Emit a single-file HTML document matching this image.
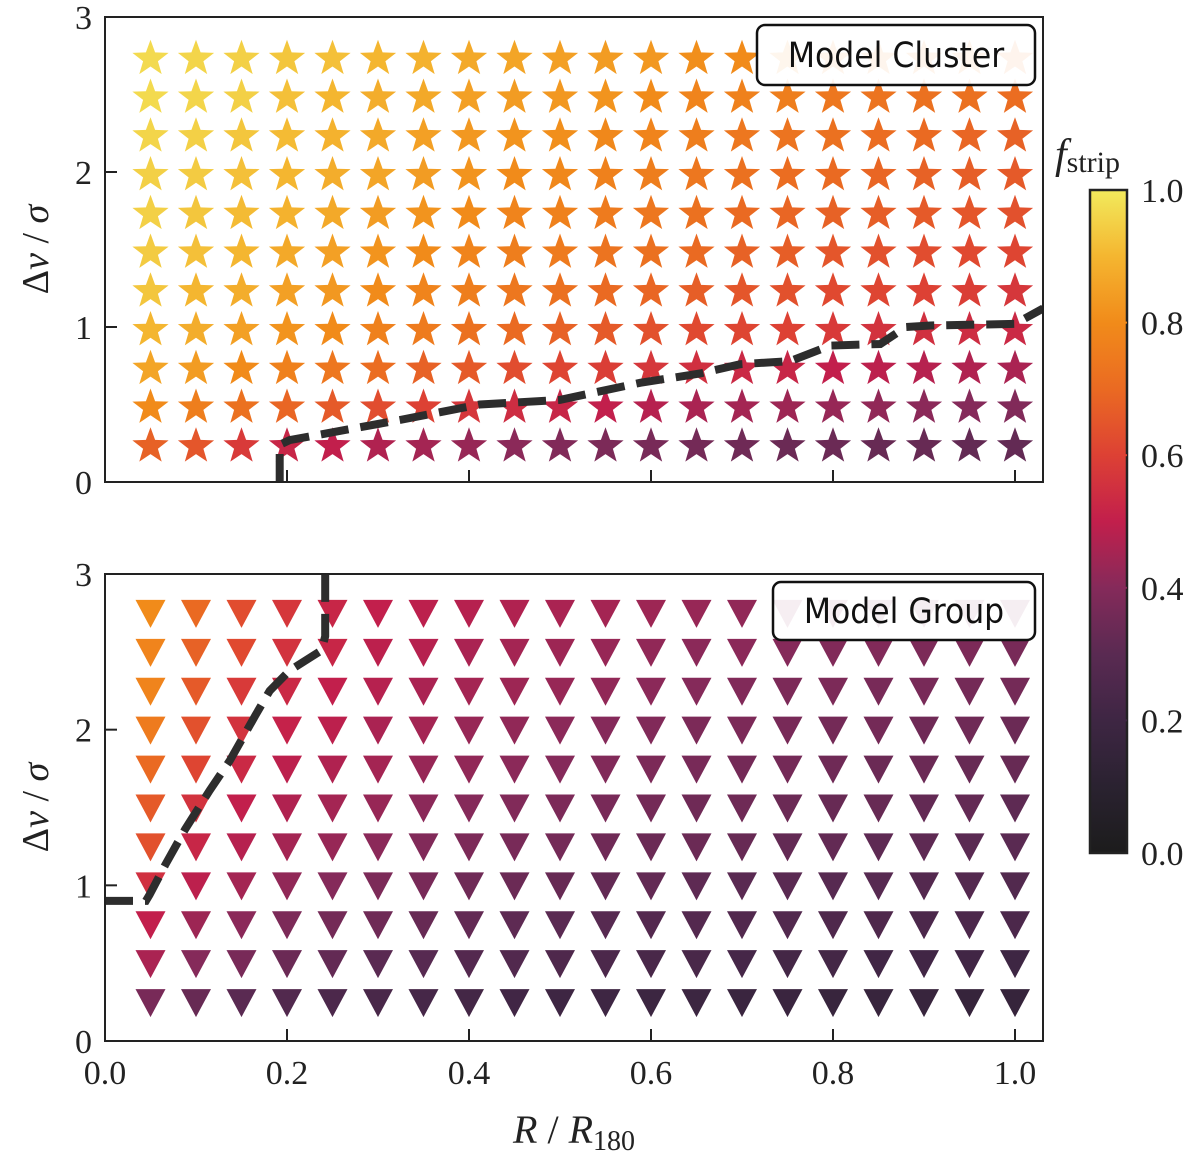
<!DOCTYPE html>
<html><head><meta charset="utf-8"><style>
body{margin:0;background:#fff;}
svg text{font-family:"Liberation Serif",serif;}
</style></head><body>
<svg id="chart" width="1200" height="1162" xmlns="http://www.w3.org/2000/svg"></svg>
<script>
const xCats=[0.05,0.1,0.15,0.2,0.25,0.3,0.35,0.4,0.45,0.5,0.55,0.6,0.65,0.7,0.75,0.8,0.85,0.9,0.95,1.0];
const yCats=[2.75,2.5,2.25,2.0,1.75,1.5,1.25,1.0,0.75,0.5,0.25];
const clusterF=[
[0.97,0.96,0.95,0.93,0.92,0.90,0.89,0.87,0.86,0.85,0.84,0.83,0.81,0.80,0.79,0.78,0.77,0.76,0.75,0.74],
[0.97,0.96,0.95,0.92,0.90,0.88,0.87,0.85,0.84,0.83,0.82,0.80,0.78,0.77,0.76,0.74,0.73,0.72,0.72,0.71],
[0.96,0.95,0.93,0.91,0.89,0.87,0.85,0.83,0.82,0.81,0.79,0.78,0.76,0.74,0.73,0.72,0.71,0.70,0.69,0.68],
[0.95,0.94,0.92,0.90,0.88,0.86,0.84,0.82,0.80,0.79,0.77,0.76,0.74,0.72,0.71,0.70,0.69,0.68,0.67,0.66],
[0.95,0.93,0.91,0.89,0.87,0.84,0.82,0.80,0.78,0.77,0.75,0.74,0.72,0.70,0.69,0.68,0.67,0.66,0.65,0.64],
[0.94,0.92,0.90,0.87,0.85,0.82,0.80,0.78,0.76,0.75,0.73,0.72,0.70,0.68,0.67,0.65,0.64,0.63,0.62,0.61],
[0.93,0.90,0.88,0.85,0.83,0.80,0.78,0.76,0.74,0.72,0.70,0.69,0.67,0.65,0.64,0.62,0.61,0.60,0.59,0.57],
[0.90,0.88,0.85,0.82,0.80,0.77,0.75,0.72,0.70,0.68,0.66,0.64,0.62,0.61,0.60,0.58,0.56,0.55,0.54,0.53],
[0.86,0.84,0.80,0.77,0.74,0.71,0.68,0.66,0.63,0.61,0.59,0.57,0.55,0.53,0.52,0.50,0.49,0.48,0.47,0.46],
[0.80,0.76,0.72,0.69,0.66,0.63,0.60,0.57,0.54,0.52,0.50,0.48,0.46,0.45,0.44,0.43,0.42,0.41,0.40,0.39],
[0.68,0.65,0.58,0.52,0.50,0.47,0.45,0.43,0.41,0.39,0.38,0.37,0.36,0.35,0.34,0.34,0.33,0.33,0.32,0.32]];
const groupF=[
[0.80,0.70,0.63,0.57,0.52,0.50,0.49,0.48,0.47,0.46,0.45,0.44,0.43,0.42,0.41,0.41,0.40,0.40,0.39,0.39],
[0.78,0.68,0.62,0.56,0.52,0.49,0.48,0.46,0.45,0.44,0.43,0.42,0.41,0.41,0.40,0.39,0.39,0.38,0.38,0.37],
[0.78,0.66,0.58,0.53,0.50,0.48,0.46,0.45,0.44,0.43,0.42,0.41,0.40,0.39,0.38,0.38,0.37,0.37,0.36,0.36],
[0.75,0.64,0.56,0.51,0.49,0.46,0.45,0.43,0.42,0.41,0.40,0.39,0.38,0.38,0.37,0.36,0.36,0.35,0.35,0.34],
[0.70,0.61,0.53,0.49,0.47,0.45,0.43,0.42,0.41,0.40,0.39,0.38,0.37,0.36,0.36,0.35,0.34,0.34,0.33,0.33],
[0.66,0.56,0.50,0.47,0.45,0.43,0.41,0.40,0.39,0.38,0.37,0.36,0.35,0.35,0.34,0.33,0.33,0.32,0.32,0.31],
[0.64,0.52,0.48,0.45,0.43,0.41,0.39,0.38,0.37,0.36,0.35,0.34,0.34,0.33,0.32,0.32,0.31,0.31,0.30,0.30],
[0.55,0.49,0.45,0.42,0.40,0.38,0.37,0.35,0.34,0.33,0.32,0.32,0.31,0.30,0.30,0.29,0.29,0.28,0.28,0.27],
[0.50,0.44,0.41,0.38,0.36,0.35,0.33,0.32,0.31,0.30,0.29,0.28,0.28,0.27,0.27,0.26,0.26,0.25,0.25,0.25],
[0.46,0.40,0.37,0.34,0.32,0.30,0.29,0.28,0.27,0.26,0.25,0.24,0.24,0.23,0.22,0.22,0.21,0.21,0.21,0.20],
[0.37,0.33,0.30,0.27,0.25,0.24,0.23,0.22,0.21,0.20,0.20,0.19,0.19,0.18,0.18,0.17,0.17,0.17,0.16,0.16]];
const clusterLineX=[0.192,0.192,0.203,0.324,0.412,0.5,0.588,0.654,0.698,0.753,0.797,0.852,0.88,0.907,1.0,1.031];
const clusterLineY=[0,0.24,0.27,0.40,0.50,0.53,0.64,0.70,0.76,0.78,0.88,0.89,1.0,1.01,1.02,1.12];
const groupLineX=[0,0.045,0.049,0.066,0.088,0.115,0.137,0.165,0.181,0.203,0.238,0.242,0.242];
const groupLineY=[0.9,0.9,0.94,1.13,1.36,1.61,1.8,2.09,2.25,2.38,2.51,2.6,3.0];
const xTicks=[0.0,0.2,0.4,0.6,0.8,1.0];
const xTickLabels=["0.0","0.2","0.4","0.6","0.8","1.0"];
const yTicks=[0,1,2,3];
const cbTicks=[0,0.2,0.4,0.6,0.8,1.0];
const cbTickLabels=["0.0","0.2","0.4","0.6","0.8","1.0"];

const NS="http://www.w3.org/2000/svg";
const svg=document.getElementById('chart');
function mk(tag,attrs,parent){const e=document.createElementNS(NS,tag);for(const k in attrs)e.setAttribute(k,attrs[k]);(parent||svg).appendChild(e);return e;}
const stops=[[0,[28,28,28]],[0.1,[42,34,48]],[0.2,[62,38,67]],[0.3,[90,42,82]],[0.4,[133,42,90]],[0.5,[194,31,76]],[0.6,[221,65,52]],[0.7,[234,106,34]],[0.8,[241,139,26]],[0.9,[244,182,48]],[1.0,[242,234,92]]];
function cmap(v){v=Math.max(0,Math.min(1,v));for(let i=0;i<stops.length-1;i++){const a=stops[i],b=stops[i+1];if(v<=b[0]){const t=(v-a[0])/(b[0]-a[0]);const c=a[1].map((x,j)=>Math.round(x+(b[1][j]-x)*t));return `rgb(${c.join(',')})`;}}return 'rgb(242,234,92)';}
const X0=105,X1=1043;
const sx=v=>105+v*910;
const panels=[{name:'cluster',top:17,bot:482,data:clusterF,lx:clusterLineX,ly:clusterLineY,marker:'star',label:'Model Cluster',lg:[757,25,278,60]},
{name:'group',top:574,bot:1041,data:groupF,lx:groupLineX,ly:groupLineY,marker:'tri',label:'Model Group',lg:[773,582,262,58]}];
panels.forEach((p,pi)=>{
  const sy=v=>p.bot-v*(p.bot-p.top)/3;
  const g=mk('g',{});
  
  
  p.data.forEach((row,ri)=>row.forEach((v,ci)=>{
    const cx=sx(xCats[ci]),cy=sy(yCats[ri]);let el;
    if(p.marker==='star'){let pts=[];for(let k=0;k<10;k++){const r=k%2?7.8:19;const a=-Math.PI/2+k*Math.PI/5;pts.push((cx+r*Math.cos(a)).toFixed(1)+','+(cy+3+r*Math.sin(a)).toFixed(1));}
      el=mk('polygon',{points:pts.join(' '),fill:cmap(v)},g);}
    else{el=mk('polygon',{points:`${cx-15},${cy-13} ${cx+15},${cy-13} ${cx},${cy+15}`,fill:cmap(v)},g);}
    
    
  }));
  const d=p.lx.map((x,i)=>(i?'L':'M')+sx(x).toFixed(1)+','+sy(p.ly[i]).toFixed(1)).join(' ');
  const cp=mk('clipPath',{id:'cp'+pi});mk('rect',{x:X0,y:p.top,width:X1-X0,height:p.bot-p.top},cp);
  const ln=mk('path',{d:d,fill:'none',stroke:'#2d2d2d','stroke-width':8,'stroke-dasharray':'28 12','clip-path':`url(#cp${pi})`},g);
  
  
  const lg=mk('rect',{x:p.lg[0],y:p.lg[1],width:p.lg[2],height:p.lg[3],rx:8,fill:'rgba(255,255,255,0.92)',stroke:'#111','stroke-width':2.5},g);
  
  
  const lt=mk('text',{x:p.lg[0]+p.lg[2]/2,y:p.lg[1]+p.lg[3]/2+12,'text-anchor':'middle','font-size':35,fill:'#111',style:'font-family:"DejaVu Sans Condensed","Liberation Sans",sans-serif'},g);
  lt.textContent=p.label;
  
  
  const fr=mk('rect',{x:X0,y:p.top,width:X1-X0,height:p.bot-p.top,fill:'none',stroke:'#222','stroke-width':2},g);
  
  
  xTicks.forEach((t,i)=>{if(t>0){const tk=mk('line',{x1:sx(t),x2:sx(t),y1:p.bot,y2:p.bot-12,stroke:'#222','stroke-width':2},g);}
    if(pi===1){const tl=mk('text',{x:sx(t),y:1084,'text-anchor':'middle','font-size':34,fill:'#222'},g);tl.textContent=xTickLabels[i];}});
  yTicks.forEach(t=>{if(t>0&&t<3){const tk=mk('line',{x1:X0,x2:X0+12,y1:sy(t),y2:sy(t),stroke:'#222','stroke-width':2},g);}
    const tl=mk('text',{x:92,y:sy(t)+12,'text-anchor':'end','font-size':34,fill:'#222'},g);tl.textContent=String(t);});
  const yl=mk('text',{x:0,y:0,transform:`translate(48,${(p.top+p.bot)/2}) rotate(-90)`,'text-anchor':'middle','font-size':38,fill:'#222'},g);
  yl.innerHTML='Δ<tspan font-style="italic">v</tspan> / <tspan font-style="italic">σ</tspan>';
  
  
});
const xl=mk('text',{x:574,y:1143,'text-anchor':'middle','font-size':40,fill:'#222'});
xl.innerHTML='<tspan font-style="italic">R</tspan> / <tspan font-style="italic">R</tspan><tspan font-size="28" dy="7">180</tspan>';


const CB={x:1090,y:190,w:37,h:663};
const defs=mk('defs',{});
const grad=mk('linearGradient',{id:'cbg',x1:0,y1:1,x2:0,y2:0},defs);
for(let i=0;i<=20;i++)mk('stop',{offset:i/20,'stop-color':cmap(i/20)},grad);
const cb=mk('rect',{x:CB.x,y:CB.y,width:CB.w,height:CB.h,fill:'url(#cbg)',stroke:'#222','stroke-width':2.5});


cbTicks.forEach((t,i)=>{const y=CB.y+CB.h-t*CB.h;
  if(t>0&&t<1){const tk=mk('line',{x1:CB.x+CB.w-12,x2:CB.x+CB.w,y1:y,y2:y,stroke:cmap(t),'stroke-width':2});}
  const tl=mk('text',{x:1141,y:y+12,'font-size':34,fill:'#222'});tl.textContent=cbTickLabels[i];});
const ct=mk('text',{x:1055,y:168,'font-size':42,fill:'#222'});
ct.innerHTML='<tspan font-style="italic">f</tspan><tspan font-size="30" dy="4">strip</tspan>';


</script>
</body></html>
